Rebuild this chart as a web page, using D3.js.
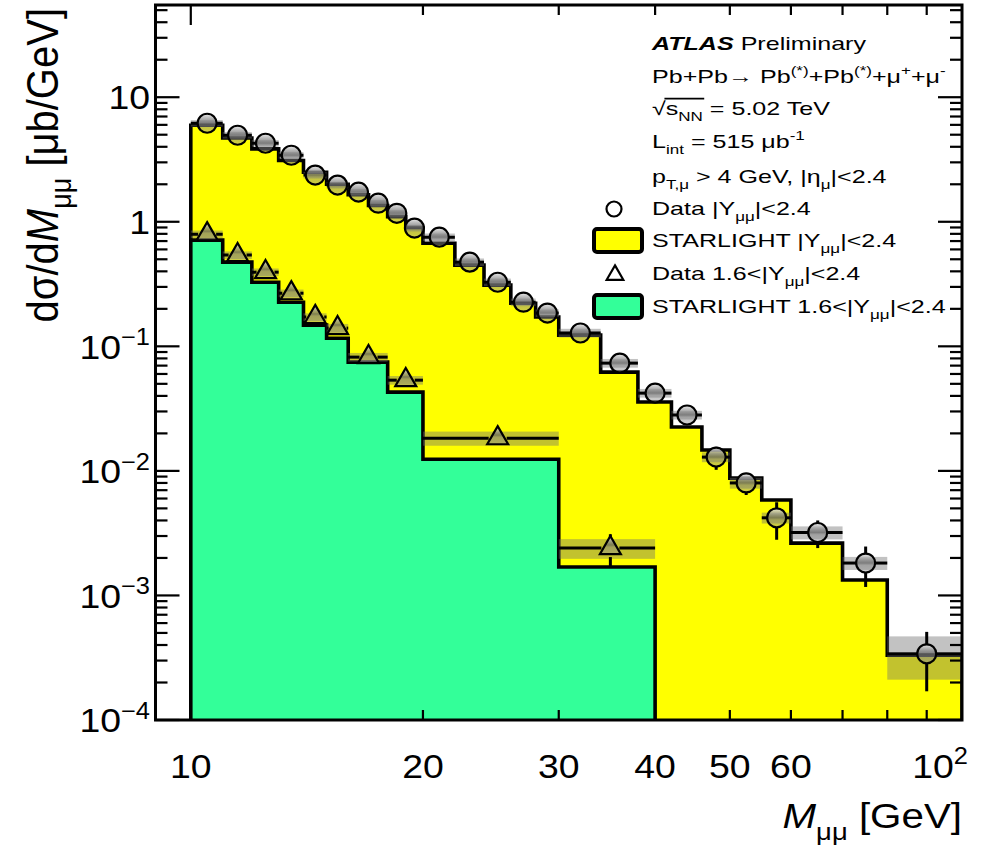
<!DOCTYPE html>
<html>
<head>
<meta charset="utf-8">
<script src="https://cdn.jsdelivr.net/npm/d3@7"></script>
<style>
  body { margin: 0; background: #fff; }
  svg text { font-family: "Liberation Sans", Arial, Helvetica, sans-serif; fill: #000; }
</style>
</head>
<body>
<svg id="chart" width="994" height="847"></svg>
<script>
// bin edges and values, |Y_mumu| < 2.4
const edgesAll = [10, 11, 12, 13, 14, 15, 16, 17, 18, 19, 20, 22, 24, 26, 28, 30, 34, 38, 42, 46, 50, 55, 60, 70, 80, 100];
const dataAll = [6.18, 4.95, 4.27, 3.42, 2.37, 1.97, 1.73, 1.41, 1.17, 0.89, 0.752, 0.474, 0.327, 0.226, 0.185, 0.128, 0.0733, 0.0421, 0.0281, 0.0129, 0.0080, 0.0042, 0.0032, 0.00182, 0.00034];
const statAll = [0.05, 0.045, 0.04, 0.035, 0.03, 0.025, 0.022, 0.02, 0.018, 0.015, 0.01, 0.008, 0.006, 0.005, 0.004, 0.003, 0.002, 0.0042, 0.0035, 0.0027, 0.0016, 0.0014, 0.0008, 0.00065, 0.00017];
const sysAll = [0.06, 0.06, 0.06, 0.06, 0.06, 0.06, 0.06, 0.06, 0.06, 0.06, 0.07, 0.07, 0.07, 0.07, 0.07, 0.08, 0.08, 0.08, 0.08, 0.09, 0.1, 0.1, 0.12, 0.12, 0.38];
const starAll = [5.96, 4.7, 3.85, 3.1, 2.5, 2.0, 1.65, 1.35, 1.1, 0.9, 0.673, 0.449, 0.31, 0.222, 0.172, 0.123, 0.0621, 0.0357, 0.0225, 0.0147, 0.00875, 0.00583, 0.00263, 0.00133, 0.000332];

// 1.6 < |Y_mumu| < 2.4
const edgesFwd = [10, 11, 12, 13, 14, 15, 16, 18, 20, 30, 40];
const dataFwd = [0.795, 0.54, 0.394, 0.267, 0.172, 0.140, 0.0819, 0.0535, 0.0183, 0.0024];
const statFwd = [0.02, 0.015, 0.012, 0.01, 0.008, 0.007, 0.004, 0.003, 0.0015, 0.0007];
const sysFwd = [0.07, 0.07, 0.07, 0.07, 0.07, 0.08, 0.08, 0.08, 0.13, 0.18];
const starFwd = [0.712, 0.474, 0.327, 0.226, 0.148, 0.116, 0.0747, 0.0429, 0.0124, 0.00169];

const xTickLabels = [[10, "10"], [20, "20"], [30, "30"], [40, "40"], [50, "50"], [60, "60"]];
const yTickLabels = [[10, "10", ""], [1, "1", ""], [0.1, "10", "\u22121"], [0.01, "10", "\u22122"], [0.001, "10", "\u22123"], [0.0001, "10", "\u22124"]];

const svg = d3.select("#chart");
const L = 155.5, R = 962, T = 5, B = 720;

const x = d3.scaleLog().domain([9, 100]).range([L, R]);
const y = d3.scaleLog().domain([1e-4, 55]).range([B, T]);

// texto con sub/superindices
function rich(parent, px, py, parts, size, sx, anchor) {
    const g = parent.append("g").attr("transform", `translate(${px},${py}) scale(${sx},1)`);
    const t = g.append("text").attr("font-size", size).attr("text-anchor", anchor || "start");
    let shift = 0;
    parts.forEach(p => {
        const s = p[0], k = p[1] || "";
        const target = k === "sub" ? size * 0.32 : k === "sup" ? -size * 0.4 : 0;
        const ts = t.append("tspan").text(s).attr("dy", target - shift);
        shift = target;
        if (k === "sub" || k === "sup") ts.attr("font-size", size * 0.68);
        if (k === "i") ts.attr("font-style", "italic");
        if (k === "bi") ts.attr("font-style", "italic").attr("font-weight", "bold");
    });
    return { g: g, t: t };
}

const defs = svg.append("defs");
const grad = defs.append("linearGradient").attr("id", "mk").attr("x1", 0).attr("y1", 0).attr("x2", 0).attr("y2", 1);
[[0, "rgb(235,235,235)", 0.9], [0.3, "rgb(150,150,150)", 0.8], [0.5, "rgb(95,95,95)", 0.7], [0.62, "rgb(130,130,130)", 0.5], [1, "rgb(150,150,150)", 0.45]]
    .forEach(s => grad.append("stop").attr("offset", s[0]).attr("stop-color", s[1]).attr("stop-opacity", s[2]));

const clip = defs.append("clipPath").attr("id", "frame");
clip.append("rect").attr("x", L).attr("y", T).attr("width", R - L).attr("height", B - T);

const plot = svg.append("g").attr("clip-path", "url(#frame)");

// histogramas STARLIGHT
function histPath(edges, vals) {
    const p = d3.path();
    p.moveTo(x(edges[0]), B + 2);
    vals.forEach((v, i) => {
        p.lineTo(x(edges[i]), y(v));
        p.lineTo(x(edges[i + 1]), y(v));
    });
    p.lineTo(x(edges[edges.length - 1]), B + 2);
    return p.toString();
}

plot.append("path").attr("d", histPath(edgesAll, starAll))
    .attr("fill", "#ffff00").attr("stroke", "#000").attr("stroke-width", 3.6);
plot.append("path").attr("d", histPath(edgesFwd, starFwd))
    .attr("fill", "#33ff99").attr("stroke", "#000").attr("stroke-width", 3.6);

// bandas sistematicas
function bands(edges, vals, sys) {
    plot.append("g").selectAll("rect").data(vals).enter().append("rect")
        .attr("x", (d, i) => x(edges[i]))
        .attr("width", (d, i) => x(edges[i + 1]) - x(edges[i]))
        .attr("y", (d, i) => y(d * (1 + sys[i])))
        .attr("height", (d, i) => y(d * (1 - sys[i])) - y(d * (1 + sys[i])))
        .attr("fill", "rgb(110,110,110)").attr("fill-opacity", 0.42);
}
bands(edgesAll, dataAll, sysAll);
bands(edgesFwd, dataFwd, sysFwd);

// puntos con barras de error
function points(edges, vals, stat, shape, r) {
    const g = plot.append("g");
    vals.forEach((v, i) => {
        const px = x((edges[i] + edges[i + 1]) / 2), py = y(v);
        const x0 = x(edges[i]), x1 = x(edges[i + 1]);
        const seg = [];
        if (px - r > x0) seg.push([x0, py, px - r, py]);
        if (x1 > px + r) seg.push([px + r, py, x1, py]);
        const yt = y(v + stat[i]), yb = y(Math.max(v - stat[i], 1e-6));
        if (yt < py - r) seg.push([px, yt, px, py - r]);
        if (yb > py + r) seg.push([px, py + r, px, yb]);
        seg.forEach(s => g.append("line").attr("x1", s[0]).attr("y1", s[1]).attr("x2", s[2]).attr("y2", s[3])
            .attr("stroke", "#000").attr("stroke-width", 3));
        if (shape === "circle") {
            g.append("circle").attr("cx", px).attr("cy", py).attr("r", r)
                .attr("fill", "url(#mk)").attr("stroke", "#000").attr("stroke-width", 2.2);
        } else {
            g.append("path").attr("d", d3.symbol(d3.symbolTriangle, 190)())
                .attr("transform", `translate(${px},${py})`)
                .attr("fill", "url(#mk)").attr("stroke", "#000").attr("stroke-width", 2.2);
        }
    });
}
points(edgesAll, dataAll, statAll, "circle", 9.5);
points(edgesFwd, dataFwd, statFwd, "triangle", 9);

// marco y marcas
const axes = svg.append("g").attr("stroke", "#000");
axes.append("rect").attr("x", L).attr("y", T).attr("width", R - L).attr("height", B - T)
    .attr("fill", "none").attr("stroke-width", 3);

const yMajor = [1e-4, 1e-3, 1e-2, 1e-1, 1, 10];
const yMinor = [];
yMajor.forEach(d => { for (let k = 2; k <= 9; k++) if (d * k <= 55) yMinor.push(d * k); });
yMajor.forEach(v => {
    axes.append("line").attr("x1", L).attr("x2", L + 24).attr("y1", y(v)).attr("y2", y(v)).attr("stroke-width", 2.2);
    axes.append("line").attr("x1", R - 24).attr("x2", R).attr("y1", y(v)).attr("y2", y(v)).attr("stroke-width", 2.2);
});
yMinor.forEach(v => {
    axes.append("line").attr("x1", L).attr("x2", L + 12).attr("y1", y(v)).attr("y2", y(v)).attr("stroke-width", 2.2);
    axes.append("line").attr("x1", R - 12).attr("x2", R).attr("y1", y(v)).attr("y2", y(v)).attr("stroke-width", 2.2);
});
const xMinor = [20, 30, 40, 50, 60, 70, 80, 90];
[10].forEach(v => {
    axes.append("line").attr("x1", x(v)).attr("x2", x(v)).attr("y1", B).attr("y2", B - 20).attr("stroke-width", 2.2);
    axes.append("line").attr("x1", x(v)).attr("x2", x(v)).attr("y1", T).attr("y2", T + 20).attr("stroke-width", 2.2);
});
xMinor.forEach(v => {
    axes.append("line").attr("x1", x(v)).attr("x2", x(v)).attr("y1", B).attr("y2", B - 10).attr("stroke-width", 2.2);
    axes.append("line").attr("x1", x(v)).attr("x2", x(v)).attr("y1", T).attr("y2", T + 10).attr("stroke-width", 2.2);
});

// etiquetas de los ejes
const tickSize = 34, tickSx = 1.1;
yTickLabels.forEach(d => {
    const parts = [[d[1]]];
    if (d[2]) parts.push([d[2], "sup"]);
    rich(svg, 150, y(d[0]) + tickSize * 0.36, parts, tickSize, tickSx, "end");
});
xTickLabels.forEach(d => rich(svg, x(d[0]), 778, [[d[1]]], tickSize, tickSx, "middle"));
rich(svg, 968, 778, [["10"], ["2", "sup"]], tickSize, tickSx, "end");

rich(svg, R, 828, [["M", "i"], ["\u03bc\u03bc", "sub"], [" [GeV]"]], 36, 1.12, "end");

const yt = svg.append("g").attr("transform", "translate(58,8) rotate(-90)");
yt.append("g").attr("transform", "scale(1,1.12)").append("text").attr("font-size", 40).attr("text-anchor", "end")
    .call(t => {
        t.append("tspan").text("d\u03c3/d");
        t.append("tspan").text("M").attr("font-style", "italic");
        t.append("tspan").text("\u03bc\u03bc").attr("font-size", 27).attr("dy", 12);
        t.append("tspan").text(" [\u03bcb/GeV]").attr("dy", -12);
    });

// leyenda
const lx = 652, fs = 19, lsx = 1.32;
rich(svg, lx, 50, [["ATLAS", "bi"], [" Preliminary"]], fs, lsx);
rich(svg, lx, 83, [["Pb+Pb"], ["\u2192 "], ["Pb"], ["(*)", "sup"], ["+Pb"], ["(*)", "sup"], ["+\u03bc"], ["+", "sup"], ["+\u03bc"], ["-", "sup"]], fs, lsx);
const sq = rich(svg, lx, 115, [["\u221a"], ["s"], ["NN", "sub"], [" = 5.02 TeV"]], fs, lsx);
{
    const n = sq.t.node();
    const a = n.getSubStringLength(0, 1), w = n.getSubStringLength(1, 3);
    sq.g.append("line").attr("x1", a - 1).attr("x2", a + w + 1).attr("y1", -fs * 0.86).attr("y2", -fs * 0.86)
        .attr("stroke", "#000").attr("stroke-width", 1.6);
}
rich(svg, lx, 148, [["L"], ["int", "sub"], [" = 515 \u03bcb"], ["-1", "sup"]], fs, lsx);
rich(svg, lx, 183, [["p"], ["T,\u03bc", "sub"], [" > 4 GeV, |\u03b7"], ["\u03bc", "sub"], ["|<2.4"]], fs, lsx);
rich(svg, lx, 215, [["Data |Y"], ["\u03bc\u03bc", "sub"], ["|<2.4"]], fs, lsx);
rich(svg, lx, 247, [["STARLIGHT |Y"], ["\u03bc\u03bc", "sub"], ["|<2.4"]], fs, lsx);
rich(svg, lx, 280, [["Data 1.6<|Y"], ["\u03bc\u03bc", "sub"], ["|<2.4"]], fs, lsx);
rich(svg, lx, 313, [["STARLIGHT 1.6<|Y"], ["\u03bc\u03bc", "sub"], ["|<2.4"]], fs, lsx);

const leg = svg.append("g");
leg.append("circle").attr("cx", 614).attr("cy", 209).attr("r", 7.5).attr("fill", "#fff").attr("stroke", "#000").attr("stroke-width", 2.2);
leg.append("path").attr("d", d3.symbol(d3.symbolTriangle, 120)()).attr("transform", "translate(615,275)")
    .attr("fill", "#fff").attr("stroke", "#000").attr("stroke-width", 2.2);
leg.append("rect").attr("x", 594).attr("y", 229).attr("width", 48).attr("height", 23).attr("rx", 3)
    .attr("fill", "#ffff00").attr("stroke", "#000").attr("stroke-width", 4);
leg.append("rect").attr("x", 594).attr("y", 295).attr("width", 48).attr("height", 23).attr("rx", 3)
    .attr("fill", "#33ff99").attr("stroke", "#000").attr("stroke-width", 4);
</script>
</body>
</html>
